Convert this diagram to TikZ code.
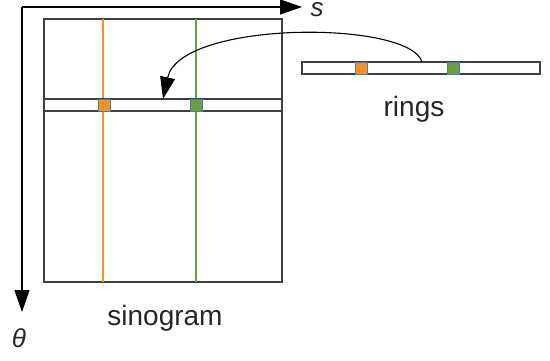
\documentclass[tikz,border=0pt]{standalone}
\usepackage{fontspec}
\setmainfont{Liberation Sans}
\usetikzlibrary{arrows.meta}
\definecolor{axisc}{HTML}{000000}
\definecolor{boxc}{HTML}{404040}
\definecolor{orangec}{HTML}{F7931E}
\definecolor{greenc}{HTML}{6E9E3A}
\definecolor{edgec}{HTML}{3F7FBF}
\tikzset{
  tip/.style={-{Triangle[length=22pt,width=15pt]}},
  axis/.style={draw=axisc, line width=1.2pt, tip},
  panel/.style={draw=boxc, line width=1.2pt, fill=white, inner sep=0pt, outer sep=0pt},
  strip/.style={panel, minimum width=238pt, minimum height=12pt},
  cell/.style={draw=edgec, line width=0.8pt, inner sep=0pt, outer sep=0pt, minimum size=12pt},
  proj/.style={line width=1.8pt},
  lbl/.style={font=\fontsize{28}{32}\selectfont, text=black!85, inner sep=0pt},
  ilbl/.style={lbl, font=\fontsize{26}{30}\selectfont\itshape},
  link/.style={draw=black, line width=1.1pt, tip}
}
\begin{document}
\begin{tikzpicture}[x=1pt,y=-1pt]
\useasboundingbox (0,0) rectangle (550,361);
% axes
\coordinate (origin) at (22,7);
\coordinate (send) at (302,7);
\coordinate (tend) at (22,312);
\draw[axis] (origin) -- (send);
\draw[axis] (origin) -- (tend);
\node[ilbl, anchor=base] (slab) at (317,17) {s};
\node[ilbl] (tlab) at (19,338) {θ};
% sinogram
\node[panel, minimum width=238pt, minimum height=263pt] (sino) at (163,150.5) {};
\draw[proj, orangec] (sino.north west) ++(59,0) coordinate (ot) -- ++(0,263) coordinate (ob);
\draw[proj, greenc] (sino.north west) ++(152,0) coordinate (gt) -- ++(0,263) coordinate (gb);
\node[strip] (row) at (163,105) {};
\node[cell, fill=orangec] (rowo) at (104,105) {};
\node[cell, fill=greenc] (rowg) at (196.5,105) {};
\node[lbl, anchor=base] (sinolab) at (165,325) {sinogram};
% rings
\node[strip] (rings) at (421,68) {};
\node[cell, fill=orangec] (ringo) at (361,68) {};
\node[cell, fill=greenc] (ringg) at (453.5,68) {};
\node[lbl, anchor=base] (ringlab) at (414,117) {rings};
% arrow
\coordinate (from) at (422,62);
\coordinate (to) at (163,99);
\draw[link] (from) .. controls (410,20) and (180,20) .. (to);
\end{tikzpicture}
\end{document}
